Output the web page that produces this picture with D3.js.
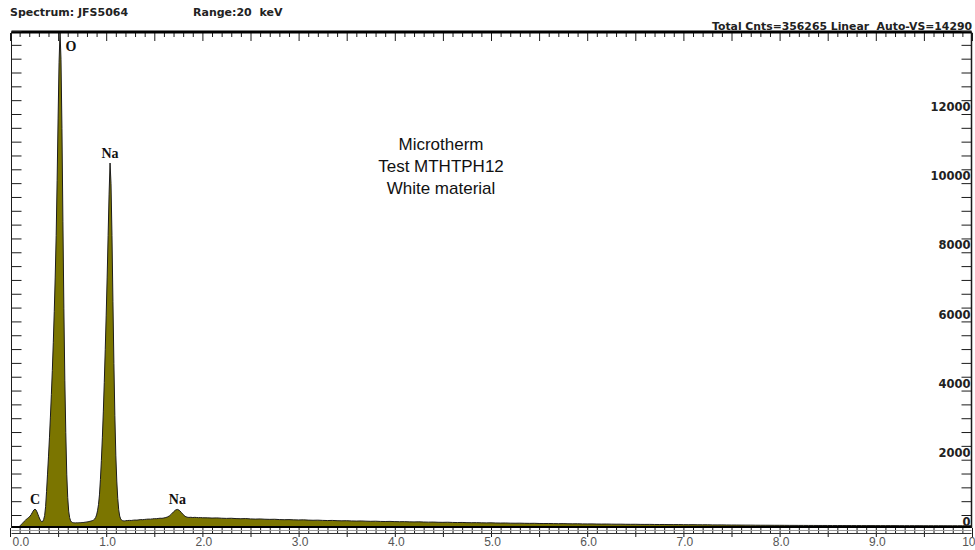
<!DOCTYPE html>
<html>
<head>
<meta charset="utf-8">
<script src="https://cdn.jsdelivr.net/npm/d3@7"></script>
<style>
  html, body { margin: 0; padding: 0; background: #fff; }
  svg { display: block; }
  text { white-space: pre; }
</style>
</head>
<body>
<svg id="chart" width="975" height="550"></svg>
<script>
// ---- Spectrum data (counts per channel) ----
// Low-energy region, 10 eV channels from 0.10 keV
const lowStartKeV = 0.10, lowStepKeV = 0.01;
const lowCounts = [
  0, 20, 50, 80, 110, 140, 165, 195, 215, 240,
  260, 290, 330, 380, 430, 470, 485, 465, 410, 340,
  265, 200, 150, 125, 130, 190, 300, 560, 1000, 1500,
  2000, 2550, 3150, 3800, 4500, 5300, 6200, 7200, 8400, 10000,
  11800, 13400, 14290, 13500, 11500, 8800, 6300, 4200, 2700, 1500,
  820, 430, 240, 150, 115, 100, 95, 92, 90, 94,
  91, 93, 96, 95, 98, 102, 100, 105, 110, 112,
  118, 122, 128, 135, 142, 150, 160, 175, 200, 245,
  320, 440, 620, 900, 1350, 1900, 2550, 3300, 4150, 5100,
  6100, 7200, 8400, 9600, 10500, 9900, 8400, 6500, 4700, 3200,
  2050, 1300, 800, 470, 290, 205, 170, 155, 150, 148,
  152
];
// Middle region, 20 eV steps from 1.22 keV
const midStartKeV = 1.22, midStepKeV = 0.02;
const midCounts = [
  158, 162, 160, 168, 172, 170, 178, 185, 182, 190,
  196, 200, 198, 206, 212, 210, 218, 225, 222, 232,
  245, 265, 300, 350, 410, 460, 480, 455, 395, 330,
  280, 255, 248, 252, 245, 250, 246, 240, 244, 238
];
// High-energy background, 50 eV steps from 2.05 keV
const highStartKeV = 2.05, highStepKeV = 0.05;
const highCounts = [
  236, 230, 234, 225, 220, 224, 214, 210, 215, 205,
  200, 204, 196, 192, 195, 186, 182, 185, 178, 175,
  178, 170, 166, 169, 162, 158, 161, 154, 150, 153,
  146, 143, 146, 140, 136, 139, 132, 130, 133, 127,
  124, 126, 120, 118, 121, 115, 112, 114, 108, 106,
  109, 103, 100, 103, 97, 95, 97, 92, 90, 92,
  87, 85, 87, 82, 80, 82, 78, 76, 78, 73,
  71, 73, 69, 67, 69, 65, 63, 65, 61, 60,
  61, 57, 56, 57, 54, 52, 53, 50, 49, 50,
  47, 46, 47, 44, 43, 44, 41, 40, 41, 38,
  37, 38, 35, 34, 35, 32, 31, 32, 29, 28,
  28, 26, 25, 25, 23, 22, 22, 21, 20, 20,
  19, 18, 18, 17, 17, 16, 16, 15, 15, 15,
  14, 14, 14, 13, 13, 13, 12, 12, 12, 12,
  11, 11, 11, 11, 10, 10, 10, 10, 10, 9,
  9, 9, 9, 9, 8, 8, 8, 8, 8, 8
];

// Element markers
const elementLabels = ["C", "O", "Na", "Na"];
const elementKeV = [0.26, 0.52, 1.04, 1.74];
const elementPeakCounts = [485, 14290, 10500, 480];

// Axis labels
const energyTickKeV = [0, 1, 2, 3, 4, 5, 6, 7, 8, 9, 10];
const energyTickLabels = ["0.0", "1.0", "2.0", "3.0", "4.0", "5.0", "6.0", "7.0", "8.0", "9.0", "10"];
const countTickValues = [0, 2000, 4000, 6000, 8000, 10000, 12000];
const countTickLabels = ["0", "2000", "4000", "6000", "8000", "10000", "12000"];

// Header and annotation text
const headerLeft = "Spectrum: JFS5064";
const headerRange = "Range:20  keV";
const headerRight = "Total Cnts=356265 Linear  Auto-VS=14290";
const noteLines = ["Microtherm", "Test MTHTPH12", "White material"];
const fullScaleCounts = 14290;

// ---- Build the spectrum points ----
function segment(start, step, counts) {
  return counts.map((c, i) => ({ e: +(start + i * step).toFixed(3), c }));
}
const spectrum = [].concat(
  segment(lowStartKeV, lowStepKeV, lowCounts),
  segment(midStartKeV, midStepKeV, midCounts),
  segment(highStartKeV, highStepKeV, highCounts)
);

// ---- Layout ----
const svg = d3.select("#chart");
const frameLeft = 11.5, frameRight = 971.5, frameTop = 32, frameBase = 526;
const x = d3.scaleLinear().domain([0, 10]).range([10, 972]);
const y = d3.scaleLinear().domain([0, fullScaleCounts]).range([frameBase, frameTop]);
const countAxisShift = -11;   // count scale labels sit slightly above the data baseline

const ink = "#1b1b1b";

// Spectrum fill and outline
const area = d3.area().x(d => x(d.e)).y0(y(0)).y1(d => y(d.c));
const line = d3.line().x(d => x(d.e)).y(d => y(d.c));
svg.append("path").datum(spectrum).attr("d", area).attr("fill", "#7b7500");
svg.append("path").datum(spectrum).attr("d", line)
  .attr("fill", "none").attr("stroke", ink).attr("stroke-width", 1)
  .attr("stroke-linejoin", "round");

// Minor/major energy ticks
const minorKeV = d3.range(0, 101).map(i => i / 10);
const isMajor = v => Math.abs(v * 2 - Math.round(v * 2)) < 1e-6;

// Top axis
const topAxis = svg.append("g").attr("transform", `translate(0,${frameTop + 1})`)
  .call(d3.axisBottom(x).tickValues(minorKeV).tickSize(4).tickFormat(""));
topAxis.select(".domain").remove();
topAxis.selectAll(".tick line").attr("stroke", ink)
  .attr("y2", d => isMajor(d) ? 8 : 4);
svg.append("line").attr("x1", frameLeft).attr("x2", frameRight).attr("y1", frameTop).attr("y2", frameTop)
  .attr("stroke", "#000").attr("stroke-width", 3);

// Bottom axis
const bottomY = 528;
const bottomAxis = svg.append("g").attr("transform", `translate(0,${bottomY})`)
  .call(d3.axisBottom(x).tickValues(minorKeV).tickSize(5).tickFormat(""));
bottomAxis.select(".domain").remove();
bottomAxis.selectAll(".tick line").attr("stroke", ink)
  .attr("y2", d => isMajor(d) ? 9 : 5);
svg.append("line").attr("x1", frameLeft).attr("x2", frameRight).attr("y1", 527).attr("y2", 527)
  .attr("stroke", "#000").attr("stroke-width", 2);
svg.append("line").attr("x1", frameLeft).attr("x2", frameRight).attr("y1", 530.5).attr("y2", 530.5)
  .attr("stroke", "#9a9a9a").attr("stroke-width", 1);
svg.append("line").attr("x1", frameLeft).attr("x2", frameRight).attr("y1", 533.5).attr("y2", 533.5)
  .attr("stroke", "#333").attr("stroke-width", 1);

const energyLabels = svg.append("g").attr("transform", `translate(0,${bottomY})`)
  .call(d3.axisBottom(x).tickValues(energyTickKeV).tickSize(0)
    .tickFormat((d, i) => energyTickLabels[i]));
energyLabels.select(".domain").remove();
const lastTick = energyTickKeV.length - 1;
energyLabels.selectAll("text")
  .attr("y", 18).attr("dy", null)
  .attr("fill", "#555")
  // first and last labels are kept inside the window edges
  .attr("text-anchor", (d, i) => i === 0 ? "start" : i === lastTick ? "end" : "middle")
  .attr("x", (d, i) => i === 0 ? 2 : i === lastTick ? 975 - x(d) : 1)
  .style("font-family", "'Liberation Sans', Arial, sans-serif")
  .style("font-size", "12px");

// Count ticks on both sides
const countMinor = d3.range(0, 36).map(i => i * 400);
const leftAxis = svg.append("g").attr("transform", `translate(${frameLeft},${countAxisShift})`)
  .call(d3.axisRight(y).tickValues(countMinor).tickSize(10).tickFormat(""));
leftAxis.select(".domain").remove();
leftAxis.selectAll(".tick line").attr("stroke", ink);
svg.append("line").attr("x1", frameLeft).attr("x2", frameLeft).attr("y1", frameTop).attr("y2", 528)
  .attr("stroke", ink).attr("stroke-width", 1);

const rightAxis = svg.append("g").attr("transform", `translate(${frameRight},${countAxisShift})`)
  .call(d3.axisLeft(y).tickValues(countMinor).tickSize(10).tickFormat(""));
rightAxis.select(".domain").remove();
rightAxis.selectAll(".tick line").attr("stroke", ink);
svg.append("line").attr("x1", frameRight).attr("x2", frameRight).attr("y1", frameTop).attr("y2", 528)
  .attr("stroke", ink).attr("stroke-width", 1.5);

const countLabels = svg.append("g").attr("transform", `translate(${frameRight},${countAxisShift})`)
  .call(d3.axisLeft(y).tickValues(countTickValues).tickSize(0)
    .tickFormat((d, i) => countTickLabels[i]));
countLabels.select(".domain").remove();
countLabels.selectAll("text")
  .attr("x", -1).attr("y", 10.5).attr("dy", null)
  .attr("text-anchor", "end")
  .attr("fill", "#222")
  .style("font-family", "'DejaVu Sans', sans-serif")
  .style("font-weight", "bold")
  .style("font-size", "11.5px");

// Element labels
elementLabels.forEach((lab, i) => {
  const px = x(elementKeV[i]);
  const py = y(elementPeakCounts[i]) - 5.5;
  const atTop = py < frameTop + 14;
  svg.append("text")
    .attr("x", atTop ? px + 11 : px)
    .attr("y", atTop ? frameTop + 19 : py)
    .attr("text-anchor", "middle")
    .attr("fill", "#111")
    .style("font-family", "'Liberation Serif', 'Times New Roman', serif")
    .style("font-weight", "bold")
    .style("font-size", "14px")
    .text(lab);
});

// Header
const headerFont = g => g.style("font-family", "'DejaVu Sans', sans-serif")
  .style("font-weight", "bold").style("font-size", "11px").attr("fill", "#222");
svg.append("text").attr("x", 10).attr("y", 16).text(headerLeft).call(headerFont);
svg.append("text").attr("x", 193).attr("y", 16).text(headerRange).call(headerFont);
svg.append("text").attr("x", 972).attr("y", 29.5).attr("text-anchor", "end")
  .attr("textLength", 260).attr("lengthAdjust", "spacingAndGlyphs")
  .text(headerRight).call(headerFont);

// Sample note
noteLines.forEach((t, i) => {
  svg.append("text").attr("x", 441).attr("y", 149.5 + i * 22)
    .attr("text-anchor", "middle").attr("fill", "#111")
    .style("font-family", "'Liberation Sans', Arial, sans-serif")
    .style("font-size", "17px")
    .text(t);
});
</script>
</body>
</html>
